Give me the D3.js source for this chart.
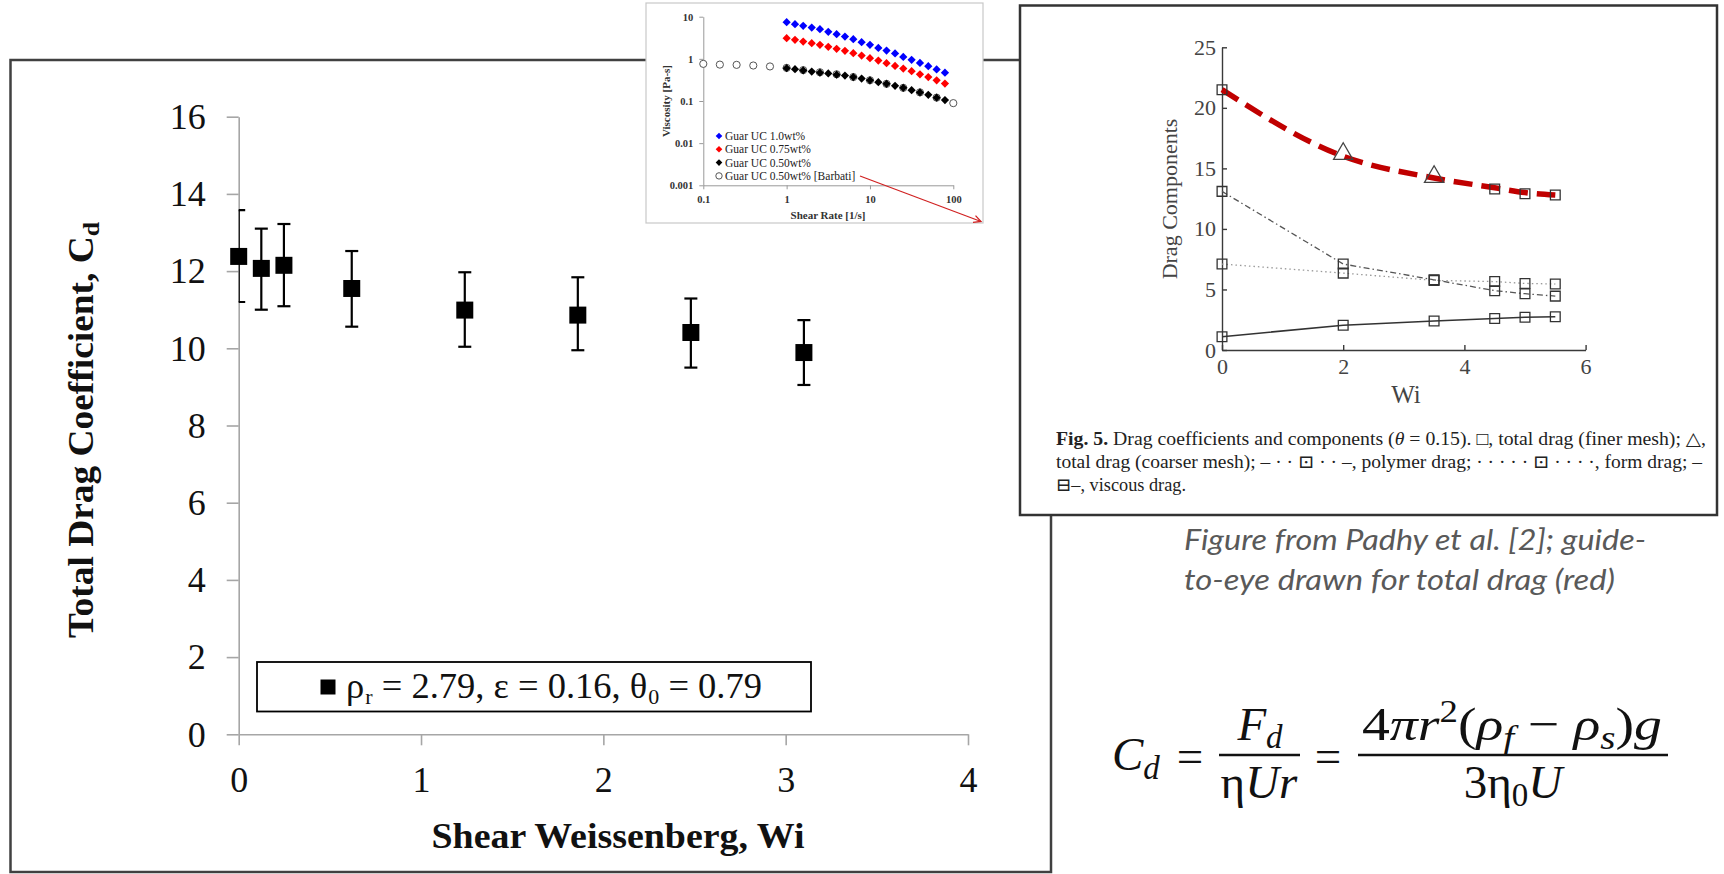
<!DOCTYPE html>
<html>
<head>
<meta charset="utf-8">
<script src="https://cdn.jsdelivr.net/npm/d3@7"></script>
<style>
  html, body { margin: 0; padding: 0; background: #fff; }
  svg { display: block; }
</style>
</head>
<body>
<svg id="chart" width="1724" height="874"></svg>
<script>
// ---------- Main chart: total drag coefficient vs shear Weissenberg ----------
const wiValues = [0, 0.124, 0.248, 0.62, 1.24, 1.86, 2.48, 3.1];
const cdValues = [12.38, 12.07, 12.15, 11.55, 10.99, 10.86, 10.41, 9.89];
const cdUpper  = [13.58, 13.10, 13.22, 12.52, 11.97, 11.84, 11.29, 10.73];
const cdLower  = [11.20, 11.00, 11.09, 10.56, 10.04, 9.95, 9.50, 9.05];
const mainXTicks = [0, 1, 2, 3, 4];
const mainYTicks = [0, 2, 4, 6, 8, 10, 12, 14, 16];

// ---------- Viscosity inset: viscosity vs shear rate (log-log) ----------
const shearRates = [1, 1.26, 1.58, 2.0, 2.51, 3.16, 3.98, 5.01, 6.31, 7.94,
                    10, 12.6, 15.8, 20.0, 25.1, 31.6, 39.8, 50.1, 63.1, 79.4];
const guar100 = [7.43, 6.65, 6.07, 5.53, 5.06, 4.37, 3.85, 3.39, 2.93, 2.49,
                 2.15, 1.82, 1.57, 1.34, 1.11, 0.95, 0.80, 0.67, 0.56, 0.47];
const guar075 = [3.10, 2.82, 2.57, 2.36, 2.15, 1.93, 1.73, 1.55, 1.36, 1.20,
                 1.04, 0.91, 0.79, 0.68, 0.59, 0.51, 0.43, 0.37, 0.31, 0.26];
const guar050 = [0.60, 0.57, 0.53, 0.50, 0.47, 0.45, 0.42, 0.40, 0.37, 0.34,
                 0.31, 0.28, 0.255, 0.23, 0.205, 0.18, 0.16, 0.14, 0.12, 0.105];
const barbatiRates = [0.1, 0.158, 0.251, 0.398, 0.631, 1, 1.58, 2.51, 3.98, 6.31,
                      10, 15.8, 25.1, 39.8, 63.1, 100];
const barbatiVisc  = [0.76, 0.73, 0.72, 0.695, 0.66, 0.61, 0.54, 0.48, 0.43, 0.37,
                      0.31, 0.255, 0.205, 0.16, 0.12, 0.089];
const insetXTicks = [0.1, 1, 10, 100];
const insetXTickLabels = ["0.1", "1", "10", "100"];
const insetYTicks = [0.001, 0.01, 0.1, 1, 10];
const insetYTickLabels = ["0.001", "0.01", "0.1", "1", "10"];
const insetSeries = ["Guar UC 1.0wt%", "Guar UC 0.75wt%", "Guar UC 0.50wt%", "Guar UC 0.50wt% [Barbati]"];

// ---------- Padhy et al. drag components vs Wi ----------
const padhyWi = [0, 2, 3.5, 4.5, 5, 5.5];
const polymerDrag = [13.1, 7.1, 5.8, 4.9, 4.65, 4.45];
const formDrag    = [7.1, 6.35, 5.75, 5.65, 5.5, 5.45];
const viscousDrag = [1.1, 2.05, 2.4, 2.6, 2.7, 2.75];
const totalGuide  = [21.5, 16.0, 14.2, 13.4, 13.0, 12.8];
const fineWi    = [0, 4.5, 5, 5.5];
const fineTotal = [21.5, 13.3, 12.9, 12.8];
const coarseWi    = [2, 3.5];
const coarseTotal = [16.2, 14.3];
const padhyXTicks = [0, 2, 4, 6];
const padhyYTicks = [0, 5, 10, 15, 20, 25];

const svg = d3.select("#chart");
const SERIF = "'Liberation Serif', 'DejaVu Serif', serif";

// ===== Outer frame of the main panel =====
svg.append("rect")
  .attr("x", 10.5).attr("y", 60).attr("width", 1040.5).attr("height", 812)
  .attr("fill", "none").attr("stroke", "#404040").attr("stroke-width", 2.5);

// ===== Main chart =====
const x = d3.scaleLinear().domain([0, 4]).range([238.7, 968]);
const y = d3.scaleLinear().domain([0, 16]).range([734.3, 116.7]);
const axisGrey = "#a6a6a6";

const gx = svg.append("g")
  .attr("transform", `translate(0,${y(0)})`)
  .call(d3.axisBottom(x).tickValues(mainXTicks).tickSize(11).tickSizeOuter(0).tickFormat(d3.format("d")));
gx.select(".domain").attr("stroke", axisGrey).attr("stroke-width", 1.6);
gx.selectAll(".tick line").attr("stroke", axisGrey).attr("stroke-width", 1.6);
gx.selectAll(".tick text").attr("y", 0).attr("dy", 58)
  .attr("font-family", SERIF).attr("font-size", 36).attr("fill", "#111");

const gy = svg.append("g")
  .attr("transform", `translate(${x(0)},0)`)
  .call(d3.axisLeft(y).tickValues(mainYTicks).tickSize(12).tickSizeOuter(0).tickFormat(d3.format("d")));
gy.select(".domain").attr("stroke", axisGrey).attr("stroke-width", 1.6);
gy.selectAll(".tick line").attr("stroke", axisGrey).attr("stroke-width", 1.6);
gy.selectAll(".tick text").attr("x", -33).attr("dy", "0.33em")
  .attr("font-family", SERIF).attr("font-size", 36).attr("fill", "#111");

// Axis titles
svg.append("text")
  .attr("transform", `translate(93,430) rotate(-90)`)
  .attr("text-anchor", "middle")
  .attr("textLength", 416).attr("lengthAdjust", "spacingAndGlyphs")
  .attr("font-family", SERIF).attr("font-weight", "bold").attr("font-size", 35).attr("fill", "#111")
  .call(t => {
    t.append("tspan").text("Total Drag Coefficient, C");
    t.append("tspan").attr("font-size", 24).attr("dy", 6).text("d");
  });
svg.append("text")
  .attr("x", 618).attr("y", 848)
  .attr("text-anchor", "middle")
  .attr("textLength", 373).attr("lengthAdjust", "spacingAndGlyphs")
  .attr("font-family", SERIF).attr("font-weight", "bold").attr("font-size", 36).attr("fill", "#111")
  .text("Shear Weissenberg, Wi");

// Error bars (clipped to the plot area so the first bar shows half caps)
svg.append("clipPath").attr("id", "plotClip")
  .append("rect").attr("x", x(0)).attr("y", 0).attr("width", x(4) - x(0)).attr("height", y(0));
const capW = 6.5;
const eb = svg.append("g").attr("clip-path", "url(#plotClip)")
  .attr("stroke", "#000").attr("stroke-width", 2.2).attr("fill", "none");
wiValues.forEach((w, i) => {
  eb.append("line").attr("x1", x(w)).attr("x2", x(w)).attr("y1", y(cdUpper[i])).attr("y2", y(cdLower[i]));
  eb.append("line").attr("x1", x(w) - capW).attr("x2", x(w) + capW).attr("y1", y(cdUpper[i])).attr("y2", y(cdUpper[i]));
  eb.append("line").attr("x1", x(w) - capW).attr("x2", x(w) + capW).attr("y1", y(cdLower[i])).attr("y2", y(cdLower[i]));
});

// Square markers
const sq = d3.symbol().type(d3.symbolSquare).size(17 * 17);
svg.append("g").selectAll("path").data(wiValues).join("path")
  .attr("d", sq)
  .attr("transform", (w, i) => `translate(${x(w)},${y(cdValues[i])})`)
  .attr("fill", "#000");

// Legend box
svg.append("rect")
  .attr("x", 257).attr("y", 662).attr("width", 554).attr("height", 49.5)
  .attr("fill", "#fff").attr("stroke", "#000").attr("stroke-width", 1.8);
svg.append("path")
  .attr("d", d3.symbol().type(d3.symbolSquare).size(15 * 15))
  .attr("transform", "translate(328,687)").attr("fill", "#000");
svg.append("text")
  .attr("x", 346).attr("y", 698)
  .attr("font-family", SERIF).attr("font-size", 36.5).attr("fill", "#111")
  .call(t => {
    t.append("tspan").text("ρ");
    t.append("tspan").attr("font-size", 22).attr("dx", 1).attr("dy", 6).text("r");
    t.append("tspan").attr("dy", -6).text(" = 2.79, ε = 0.16, θ");
    t.append("tspan").attr("font-size", 22).attr("dx", 1).attr("dy", 6).text("0");
    t.append("tspan").attr("dy", -6).text(" = 0.79");
  });

// ===== Padhy et al. panel =====
svg.append("rect")
  .attr("x", 1020).attr("y", 5.5).attr("width", 697).attr("height", 509.5)
  .attr("fill", "#fff").attr("stroke", "#333").attr("stroke-width", 2.5);

const px = d3.scaleLinear().domain([0, 6]).range([1222, 1585.6]);
const py = d3.scaleLinear().domain([0, 25]).range([350, 47.3]);
const padInk = "#3a3a3a";

const pgx = svg.append("g").attr("transform", `translate(0,${py(0)})`)
  .call(d3.axisBottom(px).tickValues(padhyXTicks).tickSize(-5).tickSizeOuter(0).tickPadding(8).tickFormat(d3.format("d")));
const pgy = svg.append("g").attr("transform", `translate(${px(0)},0)`)
  .call(d3.axisLeft(py).tickValues(padhyYTicks).tickSize(-5).tickSizeOuter(0).tickPadding(6).tickFormat(d3.format("d")));
[pgx, pgy].forEach(g => {
  g.select(".domain").attr("stroke", padInk).attr("stroke-width", 1.4);
  g.selectAll(".tick line").attr("stroke", padInk).attr("stroke-width", 1.4);
  g.selectAll(".tick text").attr("font-family", SERIF).attr("font-size", 22).attr("fill", "#444");
});

svg.append("text")
  .attr("transform", "translate(1177,199) rotate(-90)")
  .attr("text-anchor", "middle")
  .attr("font-family", SERIF).attr("font-size", 22).attr("fill", "#444")
  .text("Drag Components");
svg.append("text")
  .attr("x", 1406).attr("y", 403).attr("text-anchor", "middle")
  .attr("font-family", SERIF).attr("font-size", 25).attr("fill", "#444")
  .text("Wi");

const pline = d3.line().x((d, i) => px(padhyWi[i])).y(d => py(d));
svg.append("path").attr("d", pline(polymerDrag))
  .attr("fill", "none").attr("stroke", "#555").attr("stroke-width", 1.3).attr("stroke-dasharray", "6,3,1.5,3");
svg.append("path").attr("d", pline(formDrag))
  .attr("fill", "none").attr("stroke", "#999").attr("stroke-width", 1.3).attr("stroke-dasharray", "1.5,3");
svg.append("path").attr("d", pline(viscousDrag))
  .attr("fill", "none").attr("stroke", "#333").attr("stroke-width", 1.6);

// Guide-to-eye for the total drag
svg.append("path")
  .attr("d", d3.line().curve(d3.curveMonotoneX).x((d, i) => px(padhyWi[i])).y(d => py(d))(totalGuide))
  .attr("fill", "none").attr("stroke", "#c00000").attr("stroke-width", 5.5)
  .attr("stroke-dasharray", "19,9");

// Component markers (open squares)
const compSeries = [polymerDrag, formDrag, viscousDrag];
const openSq = d3.symbol().type(d3.symbolSquare).size(95);
compSeries.forEach(vals => {
  svg.append("g").selectAll("path").data(vals).join("path")
    .attr("d", openSq)
    .attr("transform", (d, i) => `translate(${px(padhyWi[i])},${py(d)})`)
    .attr("fill", "none").attr("stroke", "#333").attr("stroke-width", 1.3);
});
svg.append("g").selectAll("path").data(fineTotal).join("path")
  .attr("d", openSq)
  .attr("transform", (d, i) => `translate(${px(fineWi[i])},${py(d)})`)
  .attr("fill", "none").attr("stroke", "#333").attr("stroke-width", 1.3);
svg.append("g").selectAll("path").data(coarseTotal).join("path")
  .attr("d", d3.symbol().type(d3.symbolTriangle).size(160))
  .attr("transform", (d, i) => `translate(${px(coarseWi[i])},${py(d)})`)
  .attr("fill", "none").attr("stroke", "#444").attr("stroke-width", 1.3);

// Caption
const cap = svg.append("g").attr("font-family", SERIF).attr("font-size", 18.5).attr("fill", "#222");
cap.append("text").attr("x", 1056).attr("y", 445).attr("textLength", 650).attr("lengthAdjust", "spacingAndGlyphs")
  .call(t => {
    t.append("tspan").attr("font-weight", "bold").text("Fig. 5.");
    t.append("tspan").text(" Drag coefficients and components (");
    t.append("tspan").attr("font-style", "italic").text("θ");
    t.append("tspan").text(" = 0.15). □, total drag (finer mesh); △,");
  });
cap.append("text").attr("x", 1056).attr("y", 468).attr("textLength", 646).attr("lengthAdjust", "spacingAndGlyphs")
  .text("total drag (coarser mesh); – · · ⊡ · · –, polymer drag; · · · · · ⊡ · · · ·, form drag; –");
cap.append("text").attr("x", 1056).attr("y", 491).attr("textLength", 130).attr("lengthAdjust", "spacingAndGlyphs")
  .text("⊟–, viscous drag.");

// Note below the panel
const note = svg.append("g").attr("font-family", "Lato, 'Open Sans', sans-serif")
  .attr("font-style", "italic").attr("font-size", 29).attr("fill", "#595959");
note.append("text").attr("x", 1184).attr("y", 550).attr("textLength", 462).attr("lengthAdjust", "spacingAndGlyphs")
  .text("Figure from Padhy et al. [2]; guide-");
note.append("text").attr("x", 1184).attr("y", 590).attr("textLength", 431).attr("lengthAdjust", "spacingAndGlyphs")
  .text("to-eye drawn for total drag (red)");

// Drag coefficient definition
const eq = svg.append("g").attr("font-family", SERIF).attr("font-size", 47).attr("fill", "#111");
eq.append("text").attr("x", 1112).attr("y", 770).attr("font-style", "italic")
  .call(t => {
    t.append("tspan").text("C");
    t.append("tspan").attr("font-size", 33).attr("dy", 9).text("d");
  });
eq.append("text").attr("x", 1190).attr("y", 772).attr("text-anchor", "middle").text("=");
eq.append("line").attr("x1", 1219).attr("x2", 1300).attr("y1", 755).attr("y2", 755).attr("stroke", "#111").attr("stroke-width", 2.4);
eq.append("text").attr("x", 1260).attr("y", 740).attr("text-anchor", "middle").attr("font-style", "italic")
  .call(t => {
    t.append("tspan").text("F");
    t.append("tspan").attr("font-size", 33).attr("dy", 8).text("d");
  });
eq.append("text").attr("x", 1259).attr("y", 798).attr("text-anchor", "middle")
  .call(t => {
    t.append("tspan").text("η");
    t.append("tspan").attr("font-style", "italic").text("Ur");
  });
eq.append("text").attr("x", 1328).attr("y", 772).attr("text-anchor", "middle").text("=");
eq.append("line").attr("x1", 1358).attr("x2", 1668).attr("y1", 755).attr("y2", 755).attr("stroke", "#111").attr("stroke-width", 2.4);
eq.append("text").attr("x", 1362).attr("y", 740)
  .attr("textLength", 300).attr("lengthAdjust", "spacingAndGlyphs")
  .call(t => {
    t.append("tspan").text("4");
    t.append("tspan").attr("font-style", "italic").text("πr");
    t.append("tspan").attr("font-size", 31).attr("dy", -18).text("2");
    t.append("tspan").attr("dy", 18).text("(");
    t.append("tspan").attr("font-style", "italic").text("ρ");
    t.append("tspan").attr("font-style", "italic").attr("font-size", 33).attr("dy", 9).text("f");
    t.append("tspan").attr("dy", -9).text(" − ");
    t.append("tspan").attr("font-style", "italic").text("ρ");
    t.append("tspan").attr("font-style", "italic").attr("font-size", 33).attr("dy", 9).text("s");
    t.append("tspan").attr("dy", -9).text(")");
    t.append("tspan").attr("font-style", "italic").text("g");
  });
eq.append("text").attr("x", 1513).attr("y", 798).attr("text-anchor", "middle")
  .call(t => {
    t.append("tspan").text("3η");
    t.append("tspan").attr("font-size", 33).attr("dy", 8).text("0");
    t.append("tspan").attr("font-style", "italic").attr("dy", -8).text("U");
  });

// ===== Viscosity inset =====
svg.append("rect")
  .attr("x", 646).attr("y", 3).attr("width", 337).attr("height", 220)
  .attr("fill", "#fff").attr("stroke", "#c8c8c8").attr("stroke-width", 1.2);

const ix = d3.scaleLog().domain([0.1, 100]).range([703.3, 953.3]);
const iy = d3.scaleLog().domain([0.001, 10]).range([185.3, 16.7]);
const igx = svg.append("g").attr("transform", `translate(0,${iy(0.001)})`)
  .call(d3.axisBottom(ix).tickValues(insetXTicks).tickSize(4).tickSizeOuter(0).tickPadding(6)
    .tickFormat((d, i) => insetXTickLabels[i]));
const igy = svg.append("g").attr("transform", `translate(${ix(0.1)},0)`)
  .call(d3.axisLeft(iy).tickValues(insetYTicks).tickSize(4).tickSizeOuter(0).tickPadding(6)
    .tickFormat((d, i) => insetYTickLabels[i]));
[igx, igy].forEach(g => {
  g.select(".domain").attr("stroke", "#999").attr("stroke-width", 1);
  g.selectAll(".tick line").attr("stroke", "#999");
  g.selectAll(".tick text").attr("font-family", SERIF).attr("font-size", 10.5)
    .attr("font-weight", "bold").attr("fill", "#333");
});
svg.append("text")
  .attr("transform", "translate(670,101) rotate(-90)").attr("text-anchor", "middle")
  .attr("font-family", SERIF).attr("font-size", 11).attr("font-weight", "bold").attr("fill", "#333")
  .text("Viscosity [Pa-s]");
svg.append("text")
  .attr("x", 828).attr("y", 219).attr("text-anchor", "middle")
  .attr("font-family", SERIF).attr("font-size", 11).attr("font-weight", "bold").attr("fill", "#333")
  .text("Shear Rate [1/s]");

// Barbati open circles sit beneath the diamonds
svg.append("g").selectAll("circle").data(barbatiVisc).join("circle")
  .attr("cx", (d, i) => ix(barbatiRates[i])).attr("cy", d => iy(d)).attr("r", 3.6)
  .attr("fill", "#fff").attr("stroke", "#555").attr("stroke-width", 1);

const diamond = d3.symbol().type(d3.symbolSquare).size(34);
const insetColors = ["#0000ff", "#ff0000", "#000000"];
[guar100, guar075, guar050].forEach((vals, k) => {
  svg.append("g").selectAll("path").data(vals).join("path")
    .attr("d", diamond)
    .attr("transform", (d, i) => `translate(${ix(shearRates[i])},${iy(d)}) rotate(45)`)
    .attr("fill", insetColors[k]);
});

// Inset legend
const ileg = svg.append("g").attr("font-family", SERIF).attr("font-size", 11.5).attr("fill", "#222");
insetSeries.forEach((name, k) => {
  const ly = 136 + k * 13.3;
  if (k < 3) {
    ileg.append("path").attr("d", d3.symbol().type(d3.symbolSquare).size(22))
      .attr("transform", `translate(719,${ly}) rotate(45)`).attr("fill", insetColors[k]);
  } else {
    ileg.append("circle").attr("cx", 719).attr("cy", ly).attr("r", 3.2)
      .attr("fill", "#fff").attr("stroke", "#555").attr("stroke-width", 1);
  }
  ileg.append("text").attr("x", 725).attr("y", ly + 4).text(name);
});

// Arrow pointing from the Barbati entry to the Padhy panel
svg.append("defs").append("marker")
  .attr("id", "arrowHead").attr("viewBox", "0 0 10 10").attr("refX", 9).attr("refY", 5)
  .attr("markerWidth", 9).attr("markerHeight", 9).attr("orient", "auto-start-reverse")
  .attr("markerUnits", "userSpaceOnUse")
  .append("path").attr("d", "M1,1 L9,5 L1,9").attr("fill", "none").attr("stroke", "#d02020").attr("stroke-width", 1.4);
svg.append("line")
  .attr("x1", 860).attr("y1", 176).attr("x2", 981).attr("y2", 221.5)
  .attr("stroke", "#d02020").attr("stroke-width", 1.2).attr("marker-end", "url(#arrowHead)");
</script>
</body>
</html>
